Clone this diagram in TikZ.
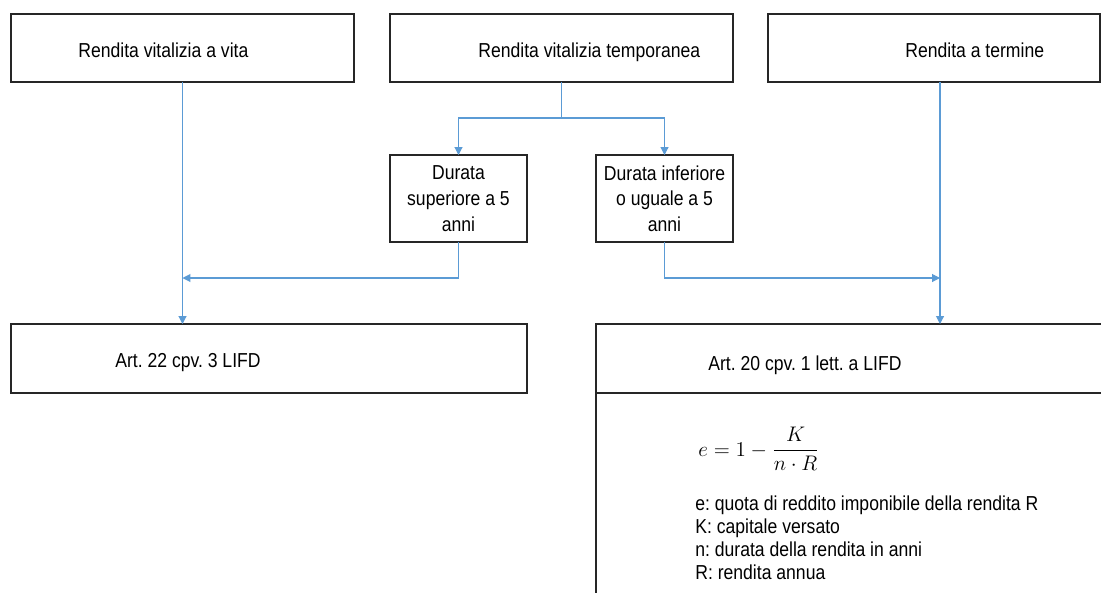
\documentclass[tikz,border=0pt]{standalone}
\usepackage[no-math]{fontspec}
\setmainfont{Liberation Sans}[FakeStretch=0.87]
\usetikzlibrary{arrows.meta, positioning, calc}
\definecolor{linkblue}{RGB}{91,155,213}
\frenchspacing

\begin{document}
\begin{tikzpicture}[
        x=0.02cm, y=-0.02cm,
        box/.style={rectangle, draw=black!85, line width=0.7pt, inner sep=0pt, outer sep=0pt, align=center, font=\fontsize{11.5}{14.6}\selectfont},
        lbl/.style={anchor=base west, inner sep=0pt, font=\fontsize{11.5}{13}\selectfont},
        conn/.style={draw=linkblue, line width=0.6pt, -{Triangle[length=4.5pt, width=4.5pt]}}
    ]
        \useasboundingbox[fill=white] (0,0) rectangle (1101,592);
        \clip (0,0) rectangle (1101,592);

        % top row
        \node[box, minimum width=6.86cm, minimum height=1.36cm] (vita) at (182.5,48) {};
        \node[box, minimum width=6.86cm, minimum height=1.36cm] (temp) at (561.5,48) {};
        \node[box, minimum width=6.64cm, minimum height=1.36cm] (term) at (934,48) {};
        \node[lbl] (vita-t) at (78,57) {Rendita vitalizia a vita};
        \node[lbl] (temp-t) at (478,57) {Rendita vitalizia temporanea};
        \node[lbl] (term-t) at (905,57) {Rendita a termine};

        % durata
        \node[box, minimum width=2.74cm, minimum height=1.74cm] (dsup) at (458.5,198.5) {Durata\\superiore a 5\\anni};
        \node[box, minimum width=2.74cm, minimum height=1.74cm] (dinf) at (664.5,198.5) {Durata inferiore\\o uguale a 5\\anni};

        % bottom row
        \node[box, minimum width=10.32cm, minimum height=1.38cm] (art22) at (269,358.5) {};
        \node[box, minimum width=10.28cm, minimum height=1.38cm] (art20) at (853,358.5) {};
        \node[box, minimum width=10.28cm, minimum height=5cm, below=0pt of art20] (art20b) {};
        \node[lbl] (art22-t) at (115,367) {Art. 22 cpv. 3 LIFD};
        \node[lbl] (art20-t) at (708,370) {Art. 20 cpv. 1 lett. a LIFD};

        \node[anchor=west, inner sep=0pt, font=\fontsize{12}{14}\selectfont] (formula) at (698,449) {$\displaystyle e = 1 - \frac{K}{n\cdot R}$};
        \node[lbl, align=left] (legend) at (695,579) {e: quota di reddito imponibile della rendita R\\K: capitale versato\\n: durata della rendita in anni\\R: rendita annua};

        % connectors
        \draw[conn] (vita.south) -- (vita.south |- art22.north);
        \draw[conn] (temp.south) -- ++(0,36) -| (dsup.north);
        \draw[conn] (temp.south) -- ++(0,36) -| (dinf.north);
        \draw[conn] (dsup.south) |- (vita.south |- 0,278);
        \draw[conn] (dinf.south) |- ([xshift=0.12cm]term.south |- 0,278);
        \draw[conn] ([xshift=0.12cm]term.south) -- ([xshift=0.12cm]term.south |- art20.north);
    \end{tikzpicture}
\end{document}
